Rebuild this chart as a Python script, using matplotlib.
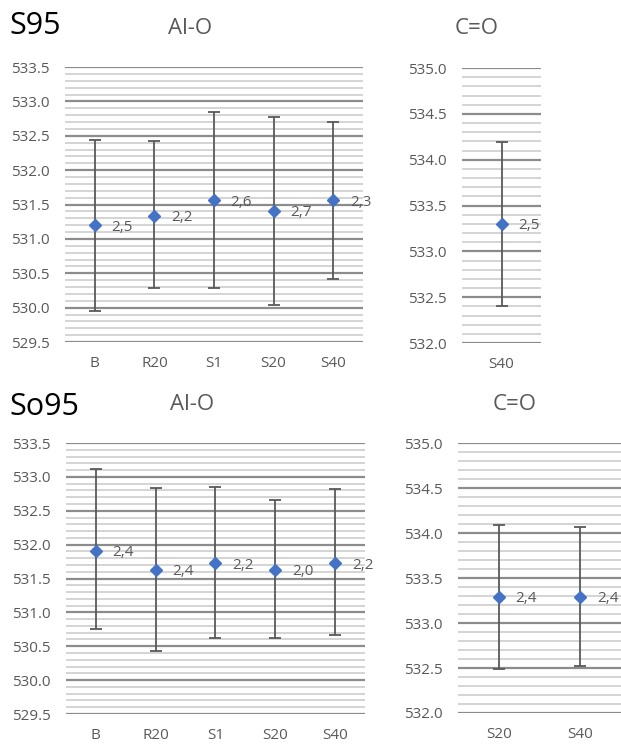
import matplotlib
matplotlib.use("Agg")
import matplotlib.pyplot as plt
import numpy as np

plt.rcParams['font.family'] = ['Open Sans', 'DejaVu Sans']

# S95, Al-O
s95_alo_cats = ["B", "R20", "S1", "S20", "S40"]
s95_alo_pos = [531.2, 531.34, 531.56, 531.41, 531.56]
s95_alo_lo = [529.95, 530.28, 530.28, 530.04, 530.41]
s95_alo_hi = [532.44, 532.42, 532.84, 532.77, 532.70]
s95_alo_fwhm = ["2,5", "2,2", "2,6", "2,7", "2,3"]

# S95, C=O
s95_co_cats = ["S40"]
s95_co_pos = [533.3]
s95_co_lo = [532.40]
s95_co_hi = [534.19]
s95_co_fwhm = ["2,5"]

# So95, Al-O
so95_alo_cats = ["B", "R20", "S1", "S20", "S40"]
so95_alo_pos = [531.91, 531.63, 531.73, 531.63, 531.73]
so95_alo_lo = [530.75, 530.43, 530.62, 530.62, 530.66]
so95_alo_hi = [533.11, 532.83, 532.85, 532.66, 532.82]
so95_alo_fwhm = ["2,4", "2,4", "2,2", "2,0", "2,2"]

# So95, C=O
so95_co_cats = ["S20", "S40"]
so95_co_pos = [533.29, 533.29]
so95_co_lo = [532.49, 532.52]
so95_co_hi = [534.09, 534.07]
so95_co_fwhm = ["2,4", "2,4"]

W, H = 621, 744
fig = plt.figure(figsize=(W / 100, H / 100), dpi=100)

GREY = "#595959"


def panel(rect_px, cats, pos, lo, hi, labels, ylim):
    l, t, r, b = rect_px
    ax = fig.add_axes([l / W, 1 - b / H, (r - l) / W, (b - t) / H])
    x = np.arange(len(cats))
    pos = np.array(pos)
    yerr = [pos - np.array(lo), np.array(hi) - pos]
    ax.errorbar(x, pos, yerr=yerr, fmt="D", color="#4472C4", markersize=6.5,
                ecolor=GREY, elinewidth=1.3, capsize=4, capthick=1.3, zorder=3)
    for xi, yi, s in zip(x, pos, labels):
        ax.annotate(s, (xi, yi), xytext=(12, -1.5), textcoords="offset points",
                    va="center", ha="left", fontsize=11, color=GREY)
    ax.set_xlim(-0.5, len(cats) - 0.5)
    ax.set_ylim(*ylim)
    ax.set_xticks(x)
    ax.set_xticklabels(cats)
    ax.set_yticks(np.arange(ylim[0], ylim[1] + 0.01, 0.5))
    ax.set_yticks(np.arange(ylim[0], ylim[1] + 0.01, 0.1), minor=True)
    ax.yaxis.set_major_formatter(matplotlib.ticker.FormatStrFormatter("%.1f"))
    ax.grid(axis="y", which="major", color="#8c8c8c", linewidth=1.6)
    ax.grid(axis="y", which="minor", color="#d4d4d4", linewidth=1.4)
    ax.set_axisbelow(True)
    for sp in ax.spines.values():
        sp.set_visible(False)
    ax.tick_params(axis="both", which="both", length=0, labelsize=11, colors=GREY)
    ax.tick_params(axis="y", pad=11)
    ax.tick_params(axis="x", pad=10)
    ax.patch.set_alpha(0)
    return ax


panel((65, 67, 363, 342), s95_alo_cats, s95_alo_pos, s95_alo_lo, s95_alo_hi,
      s95_alo_fwhm, (529.5, 533.5))
panel((462, 68, 541, 343), s95_co_cats, s95_co_pos, s95_co_lo, s95_co_hi,
      s95_co_fwhm, (532.0, 535.0))
panel((66, 443, 365, 714), so95_alo_cats, so95_alo_pos, so95_alo_lo, so95_alo_hi,
      so95_alo_fwhm, (529.5, 533.5))
panel((458, 443, 621, 713), so95_co_cats, so95_co_pos, so95_co_lo, so95_co_hi,
      so95_co_fwhm, (532.0, 535.0))

# titles
fig.text(9 / W, 1 - 26 / H, "S95", fontsize=22, color="black", va="center", ha="left")
fig.text(190 / W, 1 - 29 / H, "Al-O", fontsize=16, color=GREY, va="center", ha="center")
fig.text(477 / W, 1 - 29 / H, "C=O", fontsize=16, color=GREY, va="center", ha="center")
fig.text(9 / W, 1 - 407 / H, "So95", fontsize=22, color="black", va="center", ha="left")
fig.text(192 / W, 1 - 405 / H, "Al-O", fontsize=16, color=GREY, va="center", ha="center")
fig.text(515 / W, 1 - 405 / H, "C=O", fontsize=16, color=GREY, va="center", ha="center")

fig.savefig("out.png", dpi=100)
